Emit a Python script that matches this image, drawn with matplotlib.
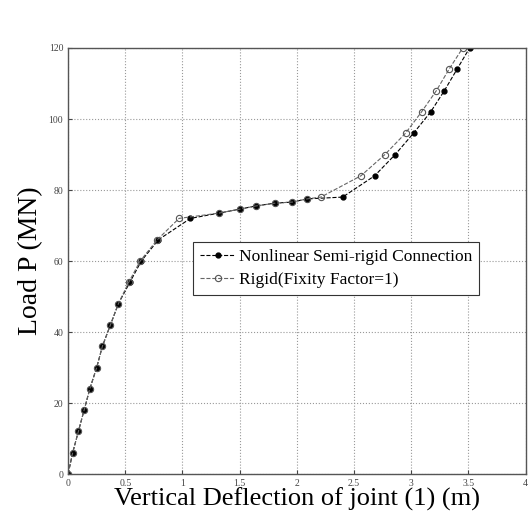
import matplotlib.pyplot as plt
import numpy as np

# load-deflection values
semi_x = [0, 0.04, 0.09, 0.14, 0.19, 0.25, 0.30, 0.37, 0.44, 0.54, 0.64, 0.79, 1.07,
          1.32, 1.50, 1.64, 1.81, 1.96, 2.09, 2.40, 2.68, 2.86, 3.02, 3.17, 3.29, 3.40, 3.51]
semi_y = [0, 6, 12, 18, 24, 30, 36, 42, 48, 54, 60, 66, 72,
          73.5, 74.6, 75.5, 76.3, 76.6, 77.5, 78, 84, 90, 96, 102, 108, 114, 120]

rigid_x = [0, 0.04, 0.09, 0.14, 0.19, 0.25, 0.30, 0.37, 0.44, 0.53, 0.63, 0.78, 0.97,
           1.32, 1.50, 1.64, 1.81, 1.96, 2.09, 2.21, 2.56, 2.77, 2.95, 3.09, 3.22, 3.33, 3.45]
rigid_y = [0, 6, 12, 18, 24, 30, 36, 42, 48, 54, 60, 66, 72,
           73.5, 74.6, 75.5, 76.3, 76.6, 77.5, 78, 84, 90, 96, 102, 108, 114, 120]

xticks = [0, 0.5, 1, 1.5, 2, 2.5, 3, 3.5, 4]
xticklabels = ['0', '0.5', '1', '1.5', '2', '2.5', '3', '3.5', '4']
yticks = [0, 20, 40, 60, 80, 100, 120]

plt.rcParams['font.family'] = ['Liberation Serif', 'DejaVu Serif']

fig = plt.figure(figsize=(5.32, 5.24), dpi=100)
ax = fig.add_axes([0.128, 0.0954, 0.86, 0.813])

ax.plot(semi_x, semi_y, '--', color='black', lw=0.8, marker='o', ms=3.5,
        mfc='black', mec='black', label='Nonlinear Semi-rigid Connection')
ax.plot(rigid_x, rigid_y, '--', color='#666666', lw=0.8, marker='o', ms=4.5,
        mfc='none', mec='#555555', mew=0.8, label='Rigid(Fixity Factor=1)')

ax.set_xlim(0, 4)
ax.set_ylim(0, 120)
ax.set_xticks(xticks)
ax.set_xticklabels(xticklabels)
ax.set_yticks(yticks)
ax.tick_params(direction='in', labelsize=7, colors='#444444', length=3)
ax.grid(True, linestyle=':', color='#999999', lw=0.8)
for s in ax.spines.values():
    s.set_color('#555555')
    s.set_linewidth(1.0)

ax.set_xlabel('Vertical Deflection of joint (1) (m)', fontsize=19, labelpad=0)
ax.set_ylabel('Load P (MN)', fontsize=20, labelpad=4)

leg = ax.legend(loc='lower left', bbox_to_anchor=(0.255, 0.40), fontsize=12.5,
                fancybox=False, framealpha=1, edgecolor='#333333',
                handlelength=2.0, handletextpad=0.2, borderpad=0.4, labelspacing=0.4)
leg.get_frame().set_linewidth(0.8)

fig.savefig('out.png', dpi=100)
